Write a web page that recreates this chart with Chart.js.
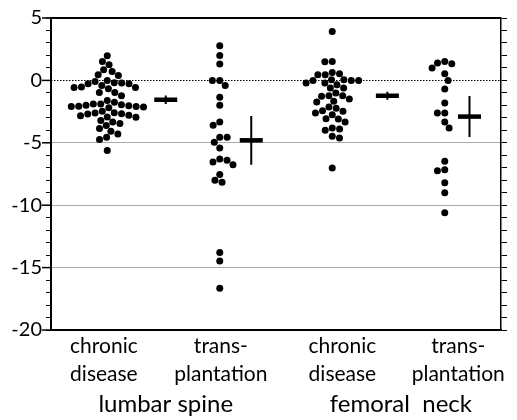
<!DOCTYPE html>
<html>
<head>
<meta charset="utf-8">
<script src="https://cdn.jsdelivr.net/npm/chart.js@4/dist/chart.umd.min.js"></script>
<style>
  body { margin: 0; background: #fff; }
</style>
</head>
<body>
<canvas id="chart" width="517" height="420"></canvas>
<script>
// values
const categoryLabels = [['chronic', 'disease'], ['trans-', 'plantation'], ['chronic', 'disease'], ['trans-', 'plantation']];
const siteLabels = ['lumbar spine', 'femoral  neck'];
const yTicks = [5, 0, -5, -10, -15, -20];

const lumbarChronic = [1.97, 1.52, 1.26, 0.86, 0.72, 0.46, 0.40, 0.0, -0.08, -0.19, -0.21, -0.27, -0.27, -0.40,
  -0.53, -0.56, -0.56, -0.67, -0.96, -0.96, -1.22, -1.62, -1.76, -1.9, -1.9, -1.95, -2.0, -2.03, -2.08, -2.1,
  -2.1, -2.13, -2.2, -2.48, -2.6, -2.61, -2.67, -2.69, -2.8, -2.83, -2.93, -2.96, -3.22, -3.33, -3.46, -3.62,
  -3.86, -4.08, -4.29, -4.56, -4.74, -5.62];
const lumbarTransplant = [2.77, 2.0, 1.31, 0.0, 0.0, -0.4, -1.36, -2.0, -3.33, -3.6, -4.56, -4.56, -4.96, -5.41,
  -6.29, -6.4, -6.53, -6.75, -7.55, -8.0, -8.16, -13.8, -14.48, -16.66];
const femoralChronic = [3.92, 1.52, 1.49, 0.64, 0.53, 0.45, 0.45, 0.05, 0.05, 0.0, 0.0, 0.0, -0.21, -0.21, -0.35,
  -0.61, -0.61, -1.01, -1.23, -1.23, -1.28, -1.49, -1.68, -1.73, -2.13, -2.24, -2.43, -2.48, -2.61, -2.75, -3.07,
  -3.09, -3.33, -3.81, -3.89, -4.0, -4.48, -4.61, -7.01];
const femoralTransplant = [1.52, 1.39, 1.33, 0.99, 0.53, 0.0, -0.69, -1.81, -2.61, -2.61, -3.33, -3.81, -6.48,
  -7.15, -7.23, -8.21, -9.01, -10.61];

const groupMeans = [-1.55, -4.8, -1.23, -2.9];
const groupErrors = [0.35, 1.95, 0.33, 1.64];

// where things sit on the 0..4 x axis
const groupX = [0.5, 1.5, 2.5, 3.5];
const meanX = [1.02, 1.78, 2.99, 3.72];
const categoryX = [0.47, 1.51, 2.59, 3.62];
const siteX = [1.02, 3.11];

const groups = [lumbarChronic, lumbarTransplant, femoralChronic, femoralTransplant];
const dotRadius = 3.5;
const dotGap = 7.4;
const font = 'Lato';

function integerTicks(s) {
  s.ticks = [];
  for (let v = s.min; v <= s.max; v++) s.ticks.push({value: v});
}

// simple beeswarm: place from the top down, as close to the centre as possible
function swarm(values, xScale, yScale, center) {
  const order = values.map((v, i) => i).sort((a, b) => values[b] - values[a]);
  const placed = [];
  const out = [];
  const cx = xScale.getPixelForValue(center);
  let side = 1;
  order.forEach(i => {
    const py = yScale.getPixelForValue(values[i]);
    const blocks = [];
    placed.forEach(p => {
      const dy = Math.abs(p.y - py);
      if (dy < dotGap) {
        const h = Math.sqrt(dotGap * dotGap - dy * dy);
        blocks.push([p.x - h, p.x + h]);
      }
    });
    const cands = [0];
    blocks.forEach(b => cands.push(b[0], b[1]));
    cands.sort((a, b) => Math.abs(a) - Math.abs(b) || (a - b) * side);
    const dx = cands.find(c => blocks.every(b => c <= b[0] + 0.01 || c >= b[1] - 0.01));
    if (dx !== 0) side = -side;
    placed.push({x: dx, y: py});
    out.push({x: xScale.getValueForPixel(cx + dx), y: values[i]});
  });
  return out;
}

const axisExtras = {
  id: 'axisExtras',
  beforeDatasetsDraw(chart) {
    const {ctx, chartArea: a, scales: {y}} = chart;
    ctx.save();
    ctx.strokeStyle = '#000';
    ctx.lineWidth = 1;
    ctx.setLineDash([1.5, 1.5]);
    const y0 = Math.round(y.getPixelForValue(0)) + 0.5;
    ctx.beginPath();
    ctx.moveTo(a.left, y0);
    ctx.lineTo(a.right, y0);
    ctx.stroke();
    ctx.setLineDash([]);
    ctx.lineWidth = 1.5;
    yTicks.forEach(v => {
      const py = y.getPixelForValue(v);
      ctx.beginPath();
      ctx.moveTo(a.left - 9, py);
      ctx.lineTo(a.left, py);
      ctx.stroke();
    });
    ctx.restore();
  }
};

const datasets = groups.map((vals, g) => ({
  data: vals.map(v => ({x: groupX[g], y: v})),
  pointRadius: dotRadius,
  backgroundColor: '#000',
  borderWidth: 0
}));
datasets.push({
  data: groupMeans.map((m, i) => ({x: meanX[i], y: m})),
  pointStyle: 'line',
  pointRadius: 11.5,
  borderColor: '#000',
  borderWidth: 4.5
});
groupMeans.forEach((m, i) => {
  datasets.push({
    type: 'line',
    data: [{x: meanX[i], y: m + groupErrors[i]}, {x: meanX[i], y: m - groupErrors[i]}],
    showLine: true,
    borderColor: '#000',
    borderWidth: 2,
    pointRadius: 0
  });
});

const chart = new Chart(document.getElementById('chart'), {
  type: 'scatter',
  data: {datasets},
  options: {
    responsive: false,
    animation: false,
    events: [],
    layout: {padding: {top: 18, bottom: 1}},
    plugins: {legend: {display: false}, tooltip: {enabled: false}},
    scales: {
      x: {
        type: 'linear', min: 0, max: 4, position: 'bottom',
        afterBuildTicks: s => { s.ticks = categoryX.map(v => ({value: v})); },
        afterFit: s => { s.height = 60; },
        ticks: {autoSkip: false, maxRotation: 0, padding: 3, color: '#000',
          font: {family: font, size: 21, lineHeight: 1.3},
          callback: (v, i) => categoryLabels[i]},
        grid: {display: false, drawTicks: false},
        border: {color: '#000', width: 2}
      },
      xg: {
        type: 'linear', min: 0, max: 4, position: 'bottom', weight: 1,
        afterBuildTicks: s => { s.ticks = siteX.map(v => ({value: v})); },
        afterFit: s => { s.height = 29; },
        ticks: {autoSkip: false, maxRotation: 0, padding: 0, color: '#000',
          font: {family: font, size: 24, lineHeight: 1.2},
          callback: (v, i) => siteLabels[i]},
        grid: {display: false, drawTicks: false},
        border: {display: false}
      },
      y: {
        type: 'linear', min: -20, max: 5,
        afterBuildTicks: integerTicks,
        afterFit: s => { s.width = 51; },
        ticks: {autoSkip: false, padding: 4, color: '#000',
          font: {family: font, size: 20},
          callback: v => yTicks.includes(v) ? String(v) : ''},
        grid: {
          tickLength: 5, tickColor: '#000', tickWidth: 1,
          color: c => [-5, -10, -15].includes(c.tick.value) ? '#aaaaaa' : (c.tick.value === 5 ? '#000' : 'rgba(0,0,0,0)'),
          lineWidth: c => c.tick.value === 5 ? 2 : 1
        },
        border: {color: '#000', width: 2}
      },
      y2: {
        type: 'linear', position: 'right', min: -20, max: 5,
        afterBuildTicks: integerTicks,
        afterFit: s => { s.width = 7; },
        ticks: {display: false},
        grid: {drawOnChartArea: false, tickLength: 6, tickColor: '#000'},
        border: {color: '#000', width: 1.5}
      }
    }
  },
  plugins: [axisExtras]
});

groups.forEach((vals, g) => {
  chart.data.datasets[g].data = swarm(vals, chart.scales.x, chart.scales.y, groupX[g]);
});
chart.update();
</script>
</body>
</html>
